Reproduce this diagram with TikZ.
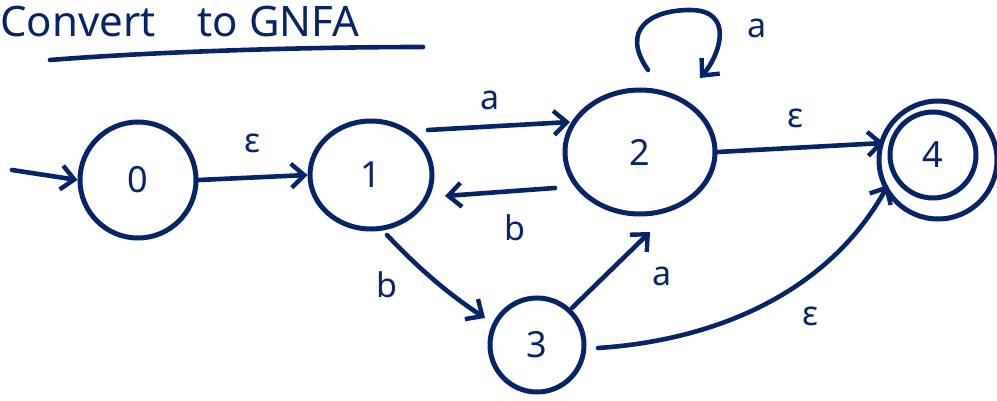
\documentclass[tikz,border=0pt]{standalone}
\usepackage{fontspec}
\setmainfont{Noto Sans}
\usetikzlibrary{arrows.meta,shapes.geometric}
\definecolor{ink}{RGB}{8,36,104}
\begin{document}
\begin{tikzpicture}[x=1pt,y=-1pt,color=ink,line width=4.6pt,line cap=round,
  state/.style={draw=ink,line width=5pt,circle,minimum size=#1,inner sep=0pt,text=ink,font=\fontsize{36}{42}\selectfont},
  estate/.style={draw=ink,line width=5pt,ellipse,inner sep=0pt,text=ink,font=\fontsize{36}{42}\selectfont},
  lbl/.style={text=ink,font=\fontsize{34}{40}\selectfont,inner sep=0pt},
  arr/.style={-{Straight Barb[length=13pt,width=24pt,line width=4.4pt]}}]
\useasboundingbox (0,0) rectangle (997,401);
% title
\node[lbl,anchor=west,font=\fontsize{42}{48}\selectfont] (title) at (-2,22) {Convert\quad to GNFA};
\coordinate (u1) at (50,60);
\coordinate (u2) at (423,47);
\draw (u1) .. controls (150,52) and (300,47) .. (u2);
% states
\node[state=116pt] (s0) at (138,180) {0};
\node[estate,minimum width=122pt,minimum height=108pt] (s1) at (371,175) {1};
\node[estate,minimum width=150pt,minimum height=124pt] (s2) at (640,152) {2};
\node[state=94pt] (s3) at (537,345) {3};
\node[state=118pt] (s4o) at (938,160) {};
\node[state=86pt] (s4) at (933,155) {4};
% start
\coordinate (st) at (12,170);
\draw[arr] (st) -- (s0.west);
% 0 -> 1
\draw[arr] (s0.east) -- (s1.west);
\node[lbl] (le01) at (252,143) {ε};
% 1 -> 2
\coordinate (p12a) at (428,130);
\coordinate (p12b) at (570,122);
\draw[arr] (p12a) -- (p12b);
\node[lbl] (la12) at (490,100) {a};
% 2 -> 1
\coordinate (p21a) at (555,188);
\coordinate (p21b) at (445,196);
\draw[arr] (p21a) -- (p21b);
\node[lbl] (lb21) at (515,228) {b};
% loop on 2
\coordinate (l1) at (648,70);
\coordinate (l2) at (700,78);
\draw[arr] (l1) .. controls (620,30) and (650,10) .. (690,10) .. controls (735,10) and (720,55) .. (l2);
\node[lbl] (la22) at (757,28) {a};
% 2 -> 4
\coordinate (p24b) at (884,143);
\draw[arr] (s2.east) -- (p24b);
\node[lbl] (le24) at (795,118) {ε};
% 1 -> 3
\coordinate (p13a) at (387,235);
\coordinate (p13b) at (485,318);
\draw[arr] (p13a) .. controls (420,270) and (450,295) .. (p13b);
\node[lbl] (lb13) at (387,285) {b};
% 3 -> 2
\coordinate (p32a) at (572,308);
\coordinate (p32b) at (650,232);
\draw[arr] (p32a) -- (p32b);
\node[lbl] (la32) at (662,276) {a};
% 3 -> 4
\coordinate (p34a) at (598,348);
\coordinate (p34b) at (888,185);
\draw[arr] (p34a) .. controls (720,340) and (830,290) .. (p34b);
\node[lbl] (le34) at (810,316) {ε};
\end{tikzpicture}
\end{document}
